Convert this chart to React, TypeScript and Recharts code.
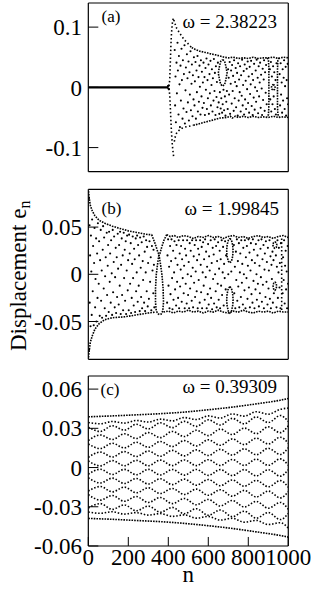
import React from 'react';
import { ComposedChart, Scatter, Line, XAxis, YAxis } from 'recharts';

type P = [number, number];

const FONT = "'Liberation Serif', 'Times New Roman', Times, 'DejaVu Serif', serif";

// ---------- shared axis ticks ----------
const xMajor = [0, 200, 400, 600, 800, 1000];
const xMinor = [100, 300, 500, 700, 900];

// ---------- panel (a) ----------
const aYMajor = [-0.1, 0, 0.1];
const aYMinor = [-0.05, 0.05];
const aZero: P[] = [[0, 0], [400, 0]];
const aUpBranch: P[] = [[403, 0.002], [407, 0.012], [409, 0.03], [411, 0.05], [413, 0.07], [416, 0.09], [420, 0.106], [425, 0.115], [433, 0.106], [442, 0.098], [455, 0.091], [467, 0.085], [480, 0.079], [492, 0.075], [505, 0.07], [517, 0.066]];
const aUpEnv: P[] = [[517, 0.066], [535, 0.063], [558, 0.06], [585, 0.058], [608, 0.056], [635, 0.054], [658, 0.052], [680, 0.05], [700, 0.049], [725, 0.05], [750, 0.048], [775, 0.049], [800, 0.048], [825, 0.05], [850, 0.048], [875, 0.049], [900, 0.049], [925, 0.05], [950, 0.048], [975, 0.05], [1000, 0.049]];
const aLoDrop: P[] = [[403, -0.002], [407, -0.012], [409, -0.025], [411, -0.04], [413, -0.055], [416, -0.075], [420, -0.095], [424, -0.108], [427, -0.116]];
const aLoBranch: P[] = [[430, -0.09], [436, -0.08], [443, -0.075], [455, -0.071], [468, -0.068], [483, -0.066], [500, -0.065], [525, -0.063]];
const aLoEnv: P[] = [[525, -0.063], [560, -0.06], [592, -0.057], [625, -0.054], [658, -0.051], [690, -0.05], [710, -0.048], [720, -0.051], [735, -0.048], [750, -0.05], [775, -0.048], [800, -0.05], [825, -0.048], [850, -0.05], [875, -0.049], [900, -0.05], [925, -0.048], [950, -0.05], [975, -0.049], [1000, -0.05]];
const aEllipse: P[] = [[672, 0.046], [682, 0.043], [688, 0.035], [694, 0.024], [688, 0.013], [682, 0.005], [672, 0.002], [662, 0.005], [656, 0.013], [650, 0.024], [656, 0.035], [662, 0.043], [672, 0.046]];
const aBoxL: P[] = [[895, 0.049], [901, 0.045], [903, 0.03], [903, 0.01], [903, -0.01], [903, -0.03], [901, -0.045], [895, -0.049]];
const aBoxR: P[] = [[955, 0.049], [948, 0.045], [946, 0.03], [946, 0.0], [946, -0.03], [948, -0.045], [955, -0.049]];
const aCircle: P[] = [[925, 0.005], [932, 0.003], [934, 0], [932, -0.003], [925, -0.005], [918, -0.003], [916, 0], [918, 0.003], [925, 0.005]];
const aDots: P[] = [
  [398, 0.002], [400, -0.002], [402, 0.003], [403, -0.003],
  [432, 0.062], [434, -0.03], [436, 0.018], [438, -0.058], [441, 0.041], [443, -0.01], [446, 0.074], [448, 0.028], [451, -0.045], [453, 0.052], [456, 0.005], [458, -0.066], [461, 0.036], [463, -0.022], [466, 0.064], [468, 0.012], [471, -0.052], [473, 0.045], [476, -0.035], [478, 0.022],
  [481, 0.07], [483, -0.06], [486, -0.005], [488, 0.033], [491, -0.041], [493, 0.055], [496, 0.015], [498, -0.025], [501, 0.043], [503, -0.055], [506, 0.025], [508, -0.012], [511, 0.06], [513, -0.038], [516, 0.006], [518, 0.038], [521, -0.048], [523, 0.02], [526, -0.02], [528, 0.05], [531, -0.03], [533, 0.01], [536, 0.042], [538, -0.052], [541, 0.028], [543, -0.008], [546, 0.052], [548, -0.04], [551, 0.017], [553, -0.024], [556, 0.036], [558, 0.001],
  [561, -0.045], [563, 0.045], [566, -0.015], [568, 0.026], [571, -0.034], [573, 0.008], [576, 0.041], [578, -0.026], [581, 0.017], [583, -0.046], [586, 0.032], [588, -0.004], [591, 0.048], [593, -0.036], [596, 0.012], [598, -0.018], [601, 0.038], [603, -0.044], [606, 0.022], [608, -0.01], [611, 0.044], [613, -0.03], [616, 0.004], [618, 0.03], [621, -0.04], [623, 0.015], [626, -0.022], [628, 0.047], [631, -0.006], [633, 0.024], [636, -0.046], [638, 0.035], [641, -0.016], [643, 0.009], [646, -0.033], [648, 0.041],
  [652, -0.025], [655, -0.044], [658, -0.008], [662, -0.035], [665, -0.018], [669, -0.042], [672, -0.028], [676, -0.004], [679, -0.038], [683, -0.015], [686, -0.047], [690, -0.024], [693, -0.006], [697, -0.036], [699, 0.03],
  [702, 0.016], [704, -0.012], [707, 0.042], [709, -0.044], [712, 0.006], [714, 0.028], [717, -0.027], [719, 0.037], [722, -0.006], [724, 0.019], [727, -0.039], [729, 0.045], [732, -0.018], [734, 0.009], [737, 0.032], [739, -0.033], [742, 0.002], [744, 0.024], [747, -0.047], [749, 0.04], [752, -0.022], [754, 0.013], [757, -0.008], [759, 0.035], [762, -0.04], [764, 0.02], [767, -0.014], [769, 0.046], [772, -0.03], [774, 0.004], [777, 0.027], [779, -0.045], [782, 0.038], [784, -0.02], [787, 0.011], [789, -0.036], [792, 0.031], [794, -0.003], [797, 0.043], [799, -0.026],
  [802, 0.018], [804, -0.042], [807, 0.034], [809, -0.011], [812, 0.005], [814, 0.044], [817, -0.031], [819, 0.022], [822, -0.046], [824, 0.012], [827, -0.017], [829, 0.039], [832, -0.037], [834, 0.0], [837, 0.028], [839, -0.024], [842, 0.046], [844, -0.006], [847, 0.016], [849, -0.043], [852, 0.035], [854, -0.015], [857, 0.008], [859, 0.041], [862, -0.034], [864, 0.021], [867, -0.002], [869, -0.046], [872, 0.031], [874, -0.021], [877, 0.013], [879, 0.045], [882, -0.039], [884, 0.025], [887, -0.009], [889, 0.037], [892, -0.028],
  [908, 0.03], [910, -0.02], [913, 0.042], [915, -0.04], [918, 0.018], [921, -0.028], [924, 0.035], [927, -0.015], [930, 0.025], [933, -0.036], [936, 0.012], [938, -0.045], [941, 0.04],
  [957, 0.022], [959, -0.03], [962, 0.04], [964, -0.012], [967, 0.008], [969, -0.042], [972, 0.03], [974, -0.022], [977, 0.016], [979, 0.045], [982, -0.036], [984, 0.002], [987, 0.034], [989, -0.047], [992, 0.012], [994, -0.018], [997, 0.039], [999, -0.028],
];

// ---------- panel (b) ----------
const bYMajor = [-0.05, 0, 0.05];
const bYMinor = [-0.075, -0.025, 0.025, 0.075];
const bUp1: P[] = [[1, 0.088], [5, 0.08], [10, 0.073], [20, 0.067], [33, 0.062], [55, 0.057], [83, 0.054], [120, 0.051], [150, 0.049], [200, 0.046], [250, 0.044], [300, 0.042], [317, 0.042]];
const bUp2: P[] = [[392, 0.042], [410, 0.04], [430, 0.041], [450, 0.039], [475, 0.041], [500, 0.04], [525, 0.038], [550, 0.04], [575, 0.039], [600, 0.041], [625, 0.039], [650, 0.04], [675, 0.038], [700, 0.04], [725, 0.041], [750, 0.039], [775, 0.04], [800, 0.038], [825, 0.04], [850, 0.041], [875, 0.039], [900, 0.04], [925, 0.038], [950, 0.04], [975, 0.041], [1000, 0.039]];
const bLo1: P[] = [[1, -0.088], [5, -0.08], [10, -0.072], [20, -0.065], [33, -0.058], [55, -0.052], [83, -0.048], [120, -0.046], [183, -0.045], [240, -0.043], [300, -0.041], [336, -0.04]];
const bLo2: P[] = [[376, -0.04], [400, -0.039], [425, -0.041], [450, -0.039], [475, -0.04], [500, -0.038], [525, -0.04], [550, -0.039], [575, -0.041], [600, -0.039], [625, -0.04], [650, -0.038], [675, -0.04], [700, -0.041], [725, -0.039], [750, -0.04], [775, -0.038], [800, -0.04], [825, -0.041], [850, -0.039], [875, -0.04], [900, -0.039], [925, -0.041], [950, -0.039], [975, -0.04], [1000, -0.04]];
const bHourL: P[] = [[317, 0.042], [333, 0.033], [347, 0.024], [353, 0.021], [347, 0.012], [340, 0.0], [336, -0.015], [336, -0.03], [340, -0.039], [350, -0.042], [358, -0.043]];
const bHourR: P[] = [[392, 0.042], [378, 0.036], [366, 0.028], [358, 0.022], [353, 0.021], [360, 0.012], [368, 0.0], [374, -0.015], [376, -0.03], [372, -0.039], [365, -0.042], [358, -0.043]];
const bEllU: P[] = [[708, 0.038], [716, 0.036], [722, 0.031], [724, 0.025], [722, 0.019], [716, 0.014], [708, 0.012], [700, 0.014], [694, 0.019], [692, 0.025], [694, 0.031], [700, 0.036], [708, 0.038]];
const bEllL: P[] = [[708, -0.013], [716, -0.015], [722, -0.021], [724, -0.027], [722, -0.033], [716, -0.039], [708, -0.041], [700, -0.039], [694, -0.033], [692, -0.027], [694, -0.021], [700, -0.015], [708, -0.013]];
const bCircU: P[] = [[933, 0.0345], [940, 0.0335], [943, 0.031], [940, 0.0285], [933, 0.0275], [926, 0.0285], [923, 0.031], [926, 0.0335], [933, 0.0345]];
const bCircL: P[] = [[933, -0.008], [939, -0.0093], [942, -0.0125], [939, -0.0157], [933, -0.017], [927, -0.0157], [924, -0.0125], [927, -0.0093], [933, -0.008]];
const bVert: P[] = [[967, 0.038], [967, -0.038]];
const bDots: P[] = [
  [3, 0.08], [4, -0.08], [6, 0.052], [7, -0.03], [9, 0.02], [11, -0.055], [13, 0.041], [15, 0.003], [17, -0.043], [19, 0.058], [22, -0.018], [24, 0.03], [27, -0.054], [29, 0.012], [31, 0.049], [34, -0.035], [36, -0.005], [39, 0.038], [41, -0.05], [44, 0.022], [46, -0.025], [48, 0.054],
  [52, -0.01], [54, 0.035], [57, -0.044], [59, 0.015], [62, 0.047], [64, -0.028], [67, 0.004], [69, -0.046], [72, 0.026], [74, 0.051], [77, -0.015], [79, 0.039], [82, -0.036], [84, -0.002], [87, 0.018], [89, -0.044], [92, 0.044], [94, -0.022], [97, 0.009], [99, 0.031],
  [102, -0.04], [104, 0.045], [107, -0.008], [109, 0.022], [112, -0.03], [114, 0.036], [117, 0.001], [119, -0.043], [122, 0.047], [124, -0.019], [127, 0.013], [129, 0.04], [132, -0.035], [134, -0.003], [137, 0.028], [139, -0.041], [142, 0.018], [144, -0.024], [147, 0.043], [149, 0.006],
  [152, -0.032], [154, 0.031], [157, -0.012], [159, 0.045], [162, -0.042], [164, 0.01], [167, 0.038], [169, -0.022], [172, 0.02], [174, -0.038], [177, 0.044], [179, -0.004], [182, 0.026], [184, -0.028], [187, 0.035], [189, -0.042], [192, 0.004], [194, 0.041], [197, -0.017], [199, 0.015],
  [202, -0.038], [204, 0.042], [207, 0.022], [209, -0.01], [212, 0.033], [214, -0.041], [217, -0.025], [219, 0.011], [222, 0.04], [224, -0.004], [227, -0.033], [229, 0.027], [232, 0.016], [234, -0.04], [237, 0.038], [239, -0.018], [242, 0.002], [244, 0.041], [247, -0.029], [249, 0.031],
  [252, -0.012], [254, 0.02], [257, -0.039], [259, 0.039], [262, 0.007], [264, -0.024], [267, 0.034], [269, -0.036], [272, 0.014], [274, -0.006], [277, 0.04], [279, -0.03], [282, 0.024], [284, -0.039], [287, 0.002], [289, 0.036], [292, -0.018], [294, 0.029], [297, -0.034], [299, 0.012],
  [303, -0.026], [306, 0.035], [309, -0.008], [312, 0.018], [315, -0.038], [318, 0.03], [321, 0.004], [325, -0.02], [328, 0.01], [330, -0.035], [326, 0.026],
  [394, -0.03], [396, 0.02], [399, 0.037], [401, -0.012], [404, 0.008], [406, -0.036], [409, 0.03], [411, -0.021], [414, 0.014], [416, 0.037], [419, -0.004], [421, -0.037], [424, 0.025], [426, -0.027], [429, 0.002], [431, 0.035], [434, -0.016], [436, 0.017], [439, -0.033], [441, 0.031], [444, -0.008], [446, 0.01], [449, -0.025],
  [452, 0.036], [454, -0.036], [457, 0.022], [459, -0.013], [462, 0.005], [464, 0.03], [467, -0.029], [469, 0.016], [472, -0.004], [474, 0.036], [477, -0.02], [479, 0.009], [482, -0.036], [484, 0.027], [487, -0.01], [489, 0.02], [492, -0.031], [494, 0.036], [497, 0.0], [499, -0.022],
  [502, 0.013], [504, -0.036], [507, 0.033], [509, -0.015], [512, 0.025], [514, -0.002], [517, -0.028], [519, 0.036], [522, 0.007], [524, -0.035], [527, 0.019], [529, -0.009], [532, 0.031], [534, -0.024], [537, 0.003], [539, 0.036], [542, -0.018], [544, 0.015], [547, -0.036], [549, 0.027],
  [552, -0.006], [554, 0.021], [557, -0.03], [559, 0.036], [562, 0.01], [564, -0.019], [567, 0.029], [569, -0.036], [572, 0.002], [574, 0.034], [577, -0.012], [579, 0.016], [582, -0.027], [584, 0.037], [587, -0.003], [589, 0.024], [592, -0.036], [594, 0.008], [597, -0.021], [599, 0.032],
  [602, -0.032], [604, 0.019], [607, 0.004], [609, -0.015], [612, 0.036], [614, -0.025], [617, 0.012], [619, -0.037], [622, 0.028], [624, -0.005], [627, 0.021], [629, -0.031], [632, 0.037], [634, 0.0], [637, -0.018], [639, 0.03], [642, -0.035], [644, 0.014], [647, -0.01], [649, 0.034],
  [652, -0.027], [654, 0.006], [657, 0.025], [659, -0.036], [662, 0.016], [664, -0.012], [667, 0.036], [669, -0.022], [672, 0.002], [674, 0.029], [677, -0.033], [679, 0.011], [682, -0.004], [684, 0.035], [687, -0.016], [689, 0.02], [700, 0.0], [715, 0.003],
  [728, 0.031], [730, -0.02], [733, 0.008], [735, -0.036], [738, 0.024], [740, -0.006], [743, 0.037], [745, -0.028], [748, 0.014], [750, -0.013], [753, 0.033], [755, -0.035], [758, 0.002], [760, 0.022], [763, -0.024], [765, 0.036], [768, -0.009], [770, 0.011], [773, -0.032], [775, 0.028], [778, 0.0],
  [781, -0.017], [783, 0.036], [786, -0.036], [788, 0.018], [791, -0.004], [793, 0.03], [796, -0.026], [798, 0.009], [801, 0.037], [803, -0.014], [806, 0.023], [808, -0.035], [811, 0.004], [813, 0.033], [816, -0.021], [818, 0.015], [821, -0.03], [823, 0.037], [826, -0.007], [828, 0.026], [831, -0.036], [833, 0.012], [836, -0.016], [838, 0.032], [841, 0.0], [843, -0.027], [846, 0.02], [848, -0.01],
  [851, 0.036], [853, -0.034], [856, 0.009], [858, -0.02], [861, 0.027], [863, -0.003], [866, 0.037], [868, -0.029], [871, 0.016], [873, -0.011], [876, 0.031], [878, -0.036], [881, 0.005], [883, 0.022], [886, -0.024], [888, 0.035], [891, -0.008], [893, 0.013], [896, -0.032], [898, 0.028], [901, -0.015], [903, 0.004], [906, 0.036], [908, -0.026], [911, 0.019], [913, -0.036], [916, 0.01], [918, -0.005],
  [921, 0.024], [923, -0.03], [926, 0.015], [928, -0.02], [938, 0.02], [941, -0.035], [943, 0.008], [946, 0.036], [948, -0.025], [951, 0.002], [953, 0.028], [956, -0.014], [958, 0.012], [961, -0.036], [963, 0.033], [972, -0.02], [974, 0.018], [977, -0.006], [979, 0.036], [982, -0.031], [984, 0.009], [987, 0.025], [989, -0.016], [992, 0.003], [994, -0.036], [997, 0.03], [999, -0.01],
];

// ---------- panel (c) ----------
const cYMajor = [-0.06, -0.03, 0, 0.03, 0.06];
const cYMinor = [-0.045, -0.015, 0.015, 0.045];
const cN = [0, 60, 120, 180, 240, 300, 360, 420, 480, 540, 600, 660, 720, 780, 840, 900, 960, 1000];
const cTop1: P[] = [[0, 0.0388], [120, 0.0395], [240, 0.0403], [360, 0.0412], [480, 0.0424], [600, 0.0442], [720, 0.0462], [840, 0.0487], [960, 0.0515], [1000, 0.0528]];
const cBot1: P[] = [[0, -0.0389], [120, -0.0396], [240, -0.0405], [360, -0.0414], [480, -0.0427], [600, -0.0445], [720, -0.0466], [840, -0.0492], [960, -0.052], [1000, -0.0532]];
const cTop2 = [0.0345, 0.0335, 0.0352, 0.034, 0.036, 0.0348, 0.037, 0.0357, 0.0382, 0.0367, 0.0395, 0.0379, 0.041, 0.0393, 0.0427, 0.0408, 0.0445, 0.0455];
const cBot2 = [-0.034, -0.035, -0.0338, -0.0356, -0.0345, -0.0364, -0.0352, -0.0374, -0.0362, -0.0387, -0.0374, -0.0402, -0.0388, -0.0418, -0.0404, -0.0436, -0.0422, -0.0462];
const c0 = [0.0309, 0.0276, 0.032, 0.0286, 0.0331, 0.0295, 0.0342, 0.0305, 0.0353, 0.0315, 0.0365, 0.0325, 0.0376, 0.0334, 0.0387, 0.0344, 0.0398, 0.0352];
const c1 = [0.0207, 0.0249, 0.0214, 0.0258, 0.0222, 0.0267, 0.0229, 0.0276, 0.0237, 0.0285, 0.0244, 0.0294, 0.0252, 0.0302, 0.0259, 0.0311, 0.0267, 0.0319];
const c2 = [0.018, 0.0145, 0.0186, 0.015, 0.0193, 0.0155, 0.0199, 0.016, 0.0206, 0.0165, 0.0212, 0.017, 0.0219, 0.0175, 0.0225, 0.018, 0.0232, 0.0185];
const c3 = [0.0078, 0.0118, 0.0081, 0.0122, 0.0084, 0.0126, 0.0086, 0.0131, 0.0089, 0.0135, 0.0092, 0.0139, 0.0095, 0.0143, 0.0098, 0.0147, 0.01, 0.0151];
const c4 = [0.0051, 0.0013, 0.0053, 0.0014, 0.0055, 0.0014, 0.0057, 0.0015, 0.0058, 0.0015, 0.006, 0.0016, 0.0062, 0.0016, 0.0064, 0.0017, 0.0066, 0.0017];
const c5 = [-0.0051, -0.0013, -0.0053, -0.0014, -0.0055, -0.0014, -0.0057, -0.0015, -0.0058, -0.0015, -0.006, -0.0016, -0.0062, -0.0016, -0.0064, -0.0017, -0.0066, -0.0017];
const c6 = [-0.0078, -0.0118, -0.0081, -0.0122, -0.0084, -0.0126, -0.0086, -0.0131, -0.0089, -0.0135, -0.0092, -0.0139, -0.0095, -0.0143, -0.0098, -0.0147, -0.01, -0.0151];
const c7 = [-0.018, -0.0145, -0.0186, -0.015, -0.0193, -0.0155, -0.0199, -0.016, -0.0206, -0.0165, -0.0212, -0.017, -0.0219, -0.0175, -0.0225, -0.018, -0.0232, -0.0185];
const c8 = [-0.0207, -0.0249, -0.0214, -0.0258, -0.0222, -0.0267, -0.0229, -0.0276, -0.0237, -0.0285, -0.0244, -0.0294, -0.0252, -0.0302, -0.0259, -0.0311, -0.0267, -0.0319];
const c9 = [-0.0309, -0.0276, -0.032, -0.0286, -0.0331, -0.0295, -0.0342, -0.0305, -0.0353, -0.0315, -0.0365, -0.0325, -0.0376, -0.0334, -0.0387, -0.0344, -0.0398, -0.0352];

// ---------- helpers ----------
const toPts = (arr: P[]) => arr.map(([n, e]) => ({ n, e }));
const fromVals = (vals: number[]) => cN.map((n, i) => ({ n, e: vals[i] }));

type Series = { data: { n: number; e: number }[]; dash?: string; w?: number; curve?: 'linear' | 'monotone' };

const Dot = (props: any) => <circle cx={props.cx} cy={props.cy} r={1.05} fill="#000" />;

const DENSE = '1.6 1.1';
const SPARSE = '1.5 2.4';

const panelA: Series[] = [
  { data: toPts(aZero), w: 2.2 },
  { data: toPts(aUpBranch), dash: SPARSE },
  { data: toPts(aUpEnv), dash: DENSE },
  { data: toPts(aLoDrop), dash: SPARSE },
  { data: toPts(aLoBranch), dash: SPARSE },
  { data: toPts(aLoEnv), dash: DENSE },
  { data: toPts(aEllipse), dash: DENSE },
  { data: toPts(aBoxL), dash: DENSE },
  { data: toPts(aBoxR), dash: DENSE },
  { data: toPts(aCircle), dash: DENSE },
];

const panelB: Series[] = [
  { data: toPts(bUp1), dash: DENSE },
  { data: toPts(bUp2), dash: DENSE },
  { data: toPts(bLo1), dash: DENSE },
  { data: toPts(bLo2), dash: DENSE },
  { data: toPts(bHourL), dash: DENSE },
  { data: toPts(bHourR), dash: DENSE },
  { data: toPts(bEllU), dash: DENSE },
  { data: toPts(bEllL), dash: DENSE },
  { data: toPts(bCircU), dash: DENSE },
  { data: toPts(bCircL), dash: DENSE },
  { data: toPts(bVert), dash: SPARSE },
];

const CDASH = '1.5 1.8';
const panelC: Series[] = [
  { data: toPts(cTop1), dash: DENSE, curve: 'monotone' },
  { data: toPts(cBot1), dash: DENSE, curve: 'monotone' },
  { data: fromVals(cTop2), dash: CDASH, curve: 'monotone' },
  { data: fromVals(cBot2), dash: CDASH, curve: 'monotone' },
  ...[c0, c1, c2, c3, c4, c5, c6, c7, c8, c9].map((v) => ({ data: fromVals(v), dash: CDASH, curve: 'monotone' as const })),
];

type PanelProps = {
  top: number;
  height: number;
  mt: number;
  mb: number;
  domain: [number, number];
  yMajor: number[];
  yMinor: number[];
  xLabels: boolean;
  dots: P[];
  lines: Series[];
};

const TINY = 0.01;

function Panel({ top, height, mt, mb, domain, yMajor, yMinor, xLabels, dots, lines }: PanelProps) {
  const tickStyle = { fill: '#000', fontSize: 23, fontFamily: FONT, style: { fontFamily: FONT } };
  const axisLine = { stroke: '#000', strokeWidth: 1.2 };
  return (
    <div style={{ position: 'absolute', left: 0, top, width: 314, height, fontFamily: FONT }}>
      <ComposedChart width={314} height={height} margin={{ top: mt, bottom: mb, left: 88.3, right: 25.7 }}>
        <XAxis xAxisId="b" dataKey="n" type="number" domain={[0, 1000]} allowDataOverflow ticks={xMajor} interval={0}
          orientation="bottom" height={TINY} tickSize={-9} tickMargin={11.7} tick={xLabels ? tickStyle : false}
          stroke="#000" axisLine={axisLine} />
        <XAxis xAxisId="bm" dataKey="n" type="number" domain={[0, 1000]} allowDataOverflow ticks={xMinor} interval={0}
          orientation="bottom" height={TINY} tickSize={-7} tick={false} stroke="#000" axisLine={false} />
        <XAxis xAxisId="t" dataKey="n" type="number" domain={[0, 1000]} allowDataOverflow ticks={xMajor} interval={0}
          orientation="top" height={TINY} tickSize={-9} tick={false} stroke="#000" axisLine={axisLine} />
        <XAxis xAxisId="tm" dataKey="n" type="number" domain={[0, 1000]} allowDataOverflow ticks={xMinor} interval={0}
          orientation="top" height={TINY} tickSize={-7} tick={false} stroke="#000" axisLine={false} />
        <YAxis yAxisId="l" dataKey="e" type="number" domain={domain} allowDataOverflow ticks={yMajor} interval={0}
          orientation="left" width={TINY} tickSize={-10} tickMargin={16.3} tick={tickStyle} stroke="#000" axisLine={axisLine} />
        <YAxis yAxisId="lm" dataKey="e" type="number" domain={domain} allowDataOverflow ticks={yMinor} interval={0}
          orientation="left" width={TINY} tickSize={-6} tick={false} stroke="#000" axisLine={false} />
        <YAxis yAxisId="r" dataKey="e" type="number" domain={domain} allowDataOverflow ticks={yMajor} interval={0}
          orientation="right" width={TINY} tickSize={-10} tick={false} stroke="#000" axisLine={axisLine} />
        <YAxis yAxisId="rm" dataKey="e" type="number" domain={domain} allowDataOverflow ticks={yMinor} interval={0}
          orientation="right" width={TINY} tickSize={-6} tick={false} stroke="#000" axisLine={false} />
        {lines.map((s, i) => (
          <Line key={i} xAxisId="b" yAxisId="l" data={s.data} dataKey="e" type={s.curve || 'linear'}
            stroke="#000" strokeWidth={s.w || 1.6} strokeDasharray={s.dash} dot={false} activeDot={false}
            isAnimationActive={false} />
        ))}
        {dots.length > 0 && (
          <Scatter xAxisId="b" yAxisId="l" data={toPts(dots)} dataKey="e" shape={Dot} isAnimationActive={false} />
        )}
      </ComposedChart>
    </div>
  );
}

export default function App() {
  const t = { fontFamily: FONT };
  return (
    <div style={{ position: 'absolute', left: 0, top: 0, width: 314, height: 589, background: '#fff', fontFamily: FONT }}>
      <Panel top={0} height={180} mt={3} mb={8.3} domain={[-0.14, 0.14]} yMajor={aYMajor} yMinor={aYMinor}
        xLabels={false} dots={aDots} lines={panelA} />
      <Panel top={180} height={185} mt={9.3} mb={5.7} domain={[-0.09, 0.09]} yMajor={bYMajor} yMinor={bYMinor}
        xLabels={false} dots={bDots} lines={panelB} />
      <Panel top={365} height={224} mt={11} mb={43} domain={[-0.06, 0.07]} yMajor={cYMajor} yMinor={cYMinor}
        xLabels={true} dots={[]} lines={panelC} />
      <svg width={314} height={589} style={{ position: 'absolute', left: 0, top: 0, pointerEvents: 'none' }}>
        <g fill="#000" style={t}>
          <text x={101.5} y={21.8} fontSize={17} style={t}>(a)</text>
          <text x={277} y={27.5} fontSize={19} textAnchor="end" style={t}>ω = 2.38223</text>
          <text x={101.5} y={213.5} fontSize={17} style={t}>(b)</text>
          <text x={279} y={215} fontSize={19} textAnchor="end" style={t}>ω = 1.99845</text>
          <text x={100.5} y={395} fontSize={17} style={t}>(c)</text>
          <text x={277} y={393} fontSize={19} textAnchor="end" style={t}>ω = 0.39309</text>
          <text x={188.3} y={581.5} fontSize={23} textAnchor="middle" style={t}>n</text>
          <text transform="translate(25.5,351) rotate(-90)" fontSize={23} style={t}>
            Displacement e<tspan fontSize={16} dy={4.5}>n</tspan>
          </text>
        </g>
      </svg>
    </div>
  );
}
